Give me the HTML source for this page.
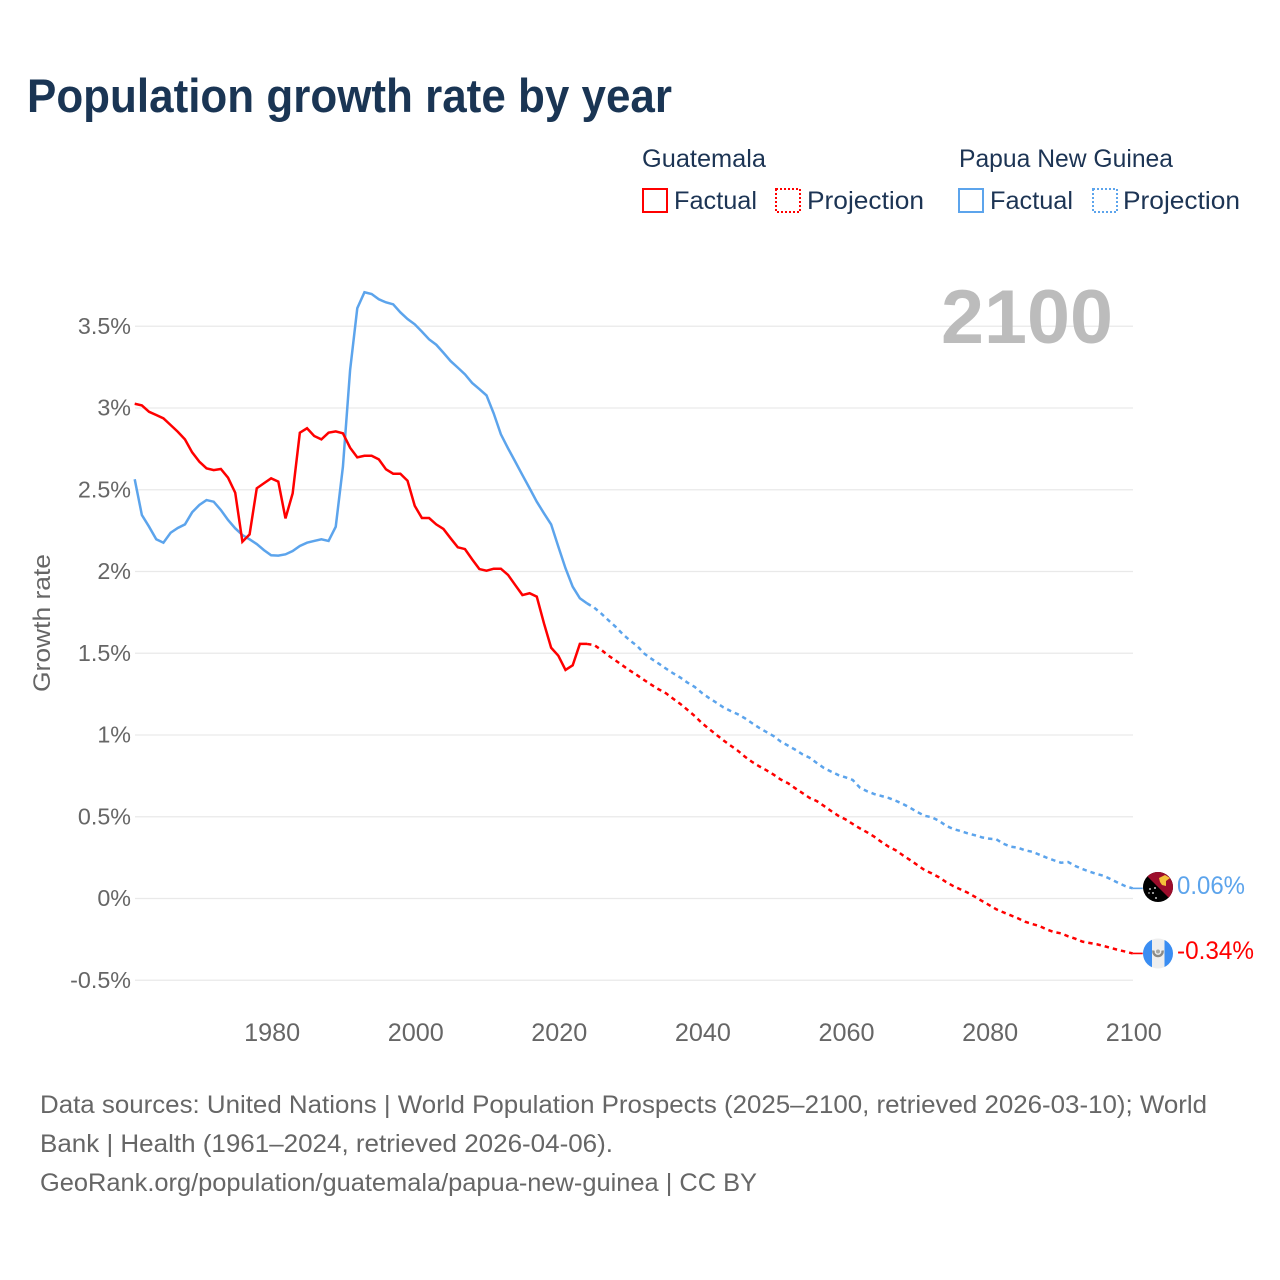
<!DOCTYPE html>
<html lang="en">
<head>
<meta charset="utf-8">
<title>Population growth rate by year</title>
<style>
html,body{margin:0;padding:0;background:#fff;}
svg{display:block;font-family:"Liberation Sans",sans-serif;}
</style>
</head>
<body>
<svg id="chart" width="1280" height="1280" viewBox="0 0 1280 1280" xmlns="http://www.w3.org/2000/svg">
  <defs>
    <clipPath id="flag-clip-png"><circle cx="1158" cy="887" r="15"/></clipPath>
    <clipPath id="flag-clip-gt"><circle cx="1158" cy="953.5" r="15"/></clipPath>
  </defs>

  <text x="27" y="112" font-size="47" font-weight="700" fill="#1a3554" textLength="645" lengthAdjust="spacingAndGlyphs">Population growth rate by year</text>

  <g font-size="25" fill="#1c3454">
    <text x="642" y="167" textLength="124" lengthAdjust="spacingAndGlyphs">Guatemala</text>
    <text x="959" y="167" textLength="214" lengthAdjust="spacingAndGlyphs">Papua New Guinea</text>
    <rect x="643" y="189" width="24" height="23" fill="none" stroke="#ff0000" stroke-width="2"/>
    <text x="674" y="209" textLength="83" lengthAdjust="spacingAndGlyphs">Factual</text>
    <rect x="776" y="189" width="24" height="23" fill="none" stroke="#ff0000" stroke-width="2" stroke-dasharray="2 2"/>
    <text x="807" y="209" textLength="117" lengthAdjust="spacingAndGlyphs">Projection</text>
    <rect x="959" y="189" width="24" height="23" fill="none" stroke="#5ca4ec" stroke-width="2"/>
    <text x="990" y="209" textLength="83" lengthAdjust="spacingAndGlyphs">Factual</text>
    <rect x="1093" y="189" width="24" height="23" fill="none" stroke="#5ca4ec" stroke-width="2" stroke-dasharray="2 2"/>
    <text x="1123" y="209" textLength="117" lengthAdjust="spacingAndGlyphs">Projection</text>
  </g>

  <g id="grid"></g>
  <text x="941" y="343" font-size="76" font-weight="700" fill="#bcbcbc" textLength="172" lengthAdjust="spacingAndGlyphs">2100</text>
  <g id="yticks" font-size="23.3" fill="#666" text-anchor="end"></g>
  <g id="xticks" font-size="25.2" fill="#666" text-anchor="middle"></g>
  <text transform="translate(50,692) rotate(-90)" font-size="24" fill="#666" textLength="138" lengthAdjust="spacingAndGlyphs">Growth rate</text>
  <g id="series"></g>

  <g clip-path="url(#flag-clip-png)">
    <rect x="1143" y="872" width="30" height="30" fill="#000"/>
    <polygon points="1143,872 1173,872 1173,902" fill="#9c0d2b"/>
    <polygon points="1159,878 1165,875 1170,878 1166,881 1166,886 1162,885 1160,882" fill="#f3c13a"/>
    <circle cx="1150" cy="889" r="0.9" fill="#fff"/><circle cx="1155" cy="888" r="0.9" fill="#fff"/>
    <circle cx="1153" cy="893" r="0.9" fill="#fff"/><circle cx="1156" cy="898" r="0.9" fill="#fff"/>
    <circle cx="1149" cy="893" r="0.7" fill="#fff"/>
  </g>
  <text x="1177" y="894" font-size="25" fill="#5ca4ec" textLength="68" lengthAdjust="spacingAndGlyphs">0.06%</text>

  <g clip-path="url(#flag-clip-gt)">
    <rect x="1143" y="938" width="30" height="32" fill="#eeeeee"/>
    <rect x="1143" y="938" width="9" height="32" fill="#3a8df2"/>
    <rect x="1164.5" y="938" width="9" height="32" fill="#3a8df2"/>
    <path d="M1153.5 950.5 A4.6 4.6 0 1 0 1162.5 950.5" fill="none" stroke="#8a8a86" stroke-width="2.4"/>
    <circle cx="1158" cy="951.5" r="2" fill="#a8a8a4"/>
  </g>
  <text x="1177" y="959" font-size="25" fill="#ff0000" textLength="77" lengthAdjust="spacingAndGlyphs">-0.34%</text>

  <g font-size="25" fill="#666">
    <text x="40" y="1113" textLength="1167" lengthAdjust="spacingAndGlyphs">Data sources: United Nations | World Population Prospects (2025–2100, retrieved 2026-03-10); World</text>
    <text x="40" y="1152" textLength="573" lengthAdjust="spacingAndGlyphs">Bank | Health (1961–2024, retrieved 2026-04-06).</text>
    <text x="40" y="1191" textLength="717" lengthAdjust="spacingAndGlyphs">GeoRank.org/population/guatemala/papua-new-guinea | CC BY</text>
  </g>
</svg>

<script>
const firstFactualYear = 1961;
const firstProjectionYear = 2025;
const yTickValues = [-0.5, 0, 0.5, 1, 1.5, 2, 2.5, 3, 3.5];
const yTickLabels = ["-0.5%", "0%", "0.5%", "1%", "1.5%", "2%", "2.5%", "3%", "3.5%"];
const xTickYears = [1980, 2000, 2020, 2040, 2060, 2080, 2100];

const guatemalaFactual = [
  3.026,3.016,2.977,2.957,2.937,2.896,2.855,2.808,2.729,2.672,
  2.631,2.62,2.627,2.574,2.482,2.182,2.227,2.509,2.54,2.57,
  2.55,2.325,2.478,2.849,2.876,2.829,2.808,2.849,2.857,2.845,
  2.757,2.698,2.708,2.708,2.686,2.625,2.598,2.598,2.555,2.402,
  2.327,2.327,2.288,2.26,2.203,2.148,2.137,2.074,2.015,2.005,
  2.017,2.017,1.979,1.917,1.856,1.867,1.846,1.683,1.534,1.485,
  1.398,1.426,1.557,1.557
];
const papuaFactual = [
  2.564,2.345,2.274,2.197,2.176,2.237,2.266,2.288,2.362,2.407,
  2.437,2.427,2.376,2.315,2.264,2.223,2.197,2.168,2.131,2.099,
  2.097,2.105,2.125,2.156,2.176,2.187,2.197,2.187,2.274,2.641,
  3.232,3.61,3.708,3.697,3.665,3.646,3.634,3.585,3.544,3.512,
  3.467,3.42,3.387,3.338,3.287,3.247,3.206,3.153,3.116,3.077,
  2.967,2.839,2.753,2.672,2.59,2.509,2.427,2.356,2.288,2.152,
  2.02,1.907,1.836,1.805
];
const guatemalaProjection = [
  1.55,1.52,1.485,1.455,1.424,1.393,1.365,1.335,1.306,1.279,
  1.255,1.222,1.19,1.153,1.116,1.073,1.037,1.002,0.967,0.935,
  0.904,0.867,0.835,0.808,0.784,0.757,0.727,0.705,0.674,0.645,
  0.615,0.596,0.566,0.535,0.506,0.484,0.456,0.429,0.405,0.378,
  0.346,0.317,0.295,0.264,0.235,0.205,0.174,0.154,0.13,0.101,
  0.076,0.056,0.036,0.011,-0.015,-0.04,-0.066,-0.085,-0.103,-0.121,
  -0.142,-0.156,-0.168,-0.189,-0.205,-0.213,-0.231,-0.246,-0.264,-0.272,
  -0.28,-0.291,-0.303,-0.315,-0.325,-0.336
];
const papuaProjection = [
  1.779,1.742,1.701,1.661,1.616,1.577,1.544,1.497,1.465,1.436,
  1.406,1.377,1.351,1.32,1.294,1.257,1.226,1.198,1.169,1.147,
  1.127,1.102,1.072,1.043,1.018,0.993,0.959,0.935,0.91,0.882,
  0.861,0.829,0.798,0.776,0.755,0.741,0.725,0.678,0.656,0.639,
  0.627,0.615,0.598,0.578,0.555,0.529,0.506,0.497,0.476,0.445,
  0.425,0.413,0.399,0.387,0.374,0.366,0.362,0.335,0.317,0.311,
  0.295,0.286,0.268,0.25,0.234,0.219,0.223,0.199,0.18,0.164,
  0.15,0.138,0.117,0.095,0.075,0.062
];

const SVG_NS = "http://www.w3.org/2000/svg";
function xScale(year) { return 134.7 + (year - 1961) * 7.18; }
function yScale(value) { return 898.5 - value * 163.5; }

function seriesPoints(values, startYear) {
  return values.map(function (v, i) {
    return xScale(startYear + i).toFixed(2) + "," + yScale(v).toFixed(2);
  }).join(" ");
}

const gridGroup = document.getElementById("grid");
const yTickGroup = document.getElementById("yticks");
yTickValues.forEach(function (v, i) {
  const line = document.createElementNS(SVG_NS, "line");
  
  
  line.setAttribute("x1", 135);
  line.setAttribute("x2", 1133);
  line.setAttribute("y1", yScale(v));
  line.setAttribute("y2", yScale(v));
  line.setAttribute("stroke", "#e9e9e9");
  line.setAttribute("stroke-width", "1.2");
  gridGroup.appendChild(line);

  const label = document.createElementNS(SVG_NS, "text");
  
  
  label.setAttribute("x", 131);
  label.setAttribute("y", yScale(v) + 7.5);
  label.textContent = yTickLabels[i];
  yTickGroup.appendChild(label);
});

const xTickGroup = document.getElementById("xticks");
xTickYears.forEach(function (year) {
  const label = document.createElementNS(SVG_NS, "text");
  
  
  label.setAttribute("x", xScale(year) + 1);
  label.setAttribute("y", 1041);
  label.textContent = String(year);
  xTickGroup.appendChild(label);
});

const seriesGroup = document.getElementById("series");

function drawFactual(values, color, name) {
  const line = document.createElementNS(SVG_NS, "polyline");
  
  
  line.setAttribute("points", seriesPoints(values, firstFactualYear));
  line.setAttribute("fill", "none");
  line.setAttribute("stroke", color);
  line.setAttribute("stroke-width", "2.5");
  line.setAttribute("stroke-linejoin", "miter");
  seriesGroup.appendChild(line);
}

function drawProjection(factual, projection, color, name) {
  const lastFactualYear = firstFactualYear + factual.length - 1;
  const values = [factual[factual.length - 1]].concat(projection);
  const line = document.createElementNS(SVG_NS, "polyline");
  
  
  line.setAttribute("points", seriesPoints(values, lastFactualYear));
  line.setAttribute("fill", "none");
  line.setAttribute("stroke", color);
  line.setAttribute("stroke-width", "2.5");
  line.setAttribute("stroke-dasharray", "4.4 4");
  seriesGroup.appendChild(line);

  const lastValue = projection[projection.length - 1];
  const lastYear = firstProjectionYear + projection.length - 1;
  const leader = document.createElementNS(SVG_NS, "line");
  
  
  leader.setAttribute("x1", xScale(lastYear));
  leader.setAttribute("x2", xScale(lastYear) + 10);
  leader.setAttribute("y1", yScale(lastValue));
  leader.setAttribute("y2", yScale(lastValue));
  leader.setAttribute("stroke", color);
  leader.setAttribute("stroke-width", "1.6");
  seriesGroup.appendChild(leader);
}

drawFactual(papuaFactual, "#5ca4ec", "papua-factual-line");
drawProjection(papuaFactual, papuaProjection, "#5ca4ec", "papua-projection-line");
drawFactual(guatemalaFactual, "#ff0000", "guatemala-factual-line");
drawProjection(guatemalaFactual, guatemalaProjection, "#ff0000", "guatemala-projection-line");
</script>
</body>
</html>
